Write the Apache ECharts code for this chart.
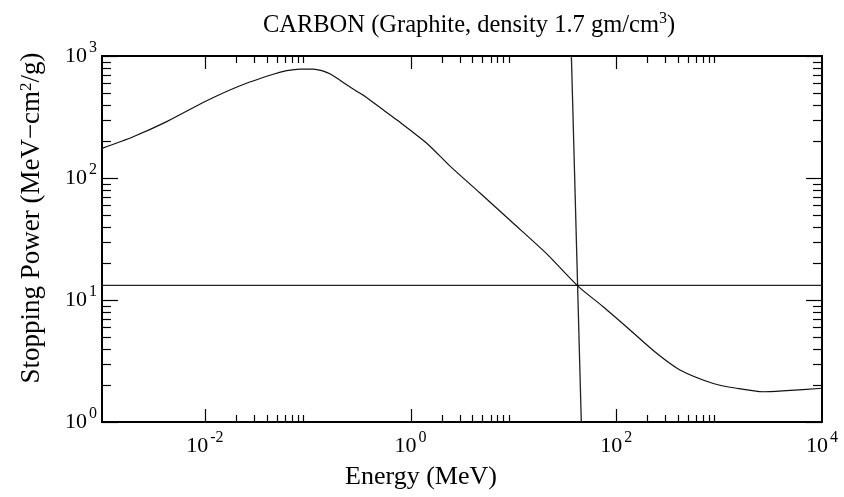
<!DOCTYPE html>
<html>
<head>
<meta charset="utf-8">
<script src="https://cdn.jsdelivr.net/npm/echarts@6/dist/echarts.min.js"></script>
<style>
  html, body { margin: 0; padding: 0; background: #fff; }
  #chart { width: 844px; height: 497px; }
</style>
</head>
<body>
<div id="chart"></div>
<script>
// ---- data ----
var energy = [0.001, 0.00201, 0.00426, 0.0103, 0.022, 0.0462, 0.0624, 0.084, 0.113, 0.137,
              0.166, 0.258, 0.344, 0.505, 0.738, 1.445, 2.42, 4.73, 9.91, 21.2, 42.4,
              74.6, 136, 247, 416, 877, 1479, 2685, 4529, 10000];
var stoppingPower = [175, 218, 290, 428, 571, 708, 758, 782, 782, 758,
                     711, 557, 479, 378, 299, 192, 125, 75.3, 42.8, 23.8, 13.0,
                     8.8, 5.68, 3.66, 2.67, 2.07, 1.89, 1.77, 1.81, 1.89];
var hLineX = [0.001, 10000];
var hLineY = [13.2, 13.2];
var vLineX = [36.6, 45.7];
var vLineY = [1000, 1];
var xMajorTicks = [0.01, 1, 100];
var yMajorTicks = [1, 10, 100, 1000];
var xLabelExponents = [-2, 0, 2, 4];
var yLabelExponents = [0, 1, 2, 3];

// ---- build ----
function zip(a, b) { return a.map(function (v, i) { return [v, b[i]]; }); }
var tickData = [];
xMajorTicks.forEach(function (v) {
  tickData.push([v, 1, 0]);
  for (var m = 2; m <= 9; m++) tickData.push([v * m, 1, 1]);
});
yMajorTicks.forEach(function (v, i) {
  tickData.push([1, v, 2]);
  if (i < yMajorTicks.length - 1) for (var m = 2; m <= 9; m++) tickData.push([1, v * m, 3]);
});

var FONT = 'Liberation Serif';
function expOf(v) { return Math.round(Math.log(v) / Math.LN10); }
var labelRich = {
  b: { fontFamily: FONT, fontSize: 22, color: '#000', lineHeight: 32 },
  s: { fontFamily: FONT, fontSize: 16, color: '#000', lineHeight: 16, verticalAlign: 'top', padding: [0, 0, 0, 2] }
};

var chart = echarts.init(document.getElementById('chart'), null, { renderer: 'canvas' });
chart.setOption({
  animation: false,
  backgroundColor: '#fff',
  title: {
    text: 'CARBON (Graphite, density 1.7 gm/cm{s|3})',
    left: 464, top: 6, textAlign: 'center',
    textStyle: {
      fontFamily: FONT, fontSize: 24.5, fontWeight: 'normal', color: '#000', lineHeight: 30,
      rich: { s: { fontFamily: FONT, fontSize: 16, color: '#000', lineHeight: 16, verticalAlign: 'top' } }
    }
  },
  grid: { left: 102, top: 56, width: 720, height: 366, show: true, borderColor: '#000', borderWidth: 2, backgroundColor: 'transparent' },
  xAxis: {
    type: 'log', logBase: 10, min: 0.001, max: 10000,
    axisLine: { show: false }, axisTick: { show: false }, splitLine: { show: false },
    axisLabel: {
      margin: 8, showMinLabel: true, showMaxLabel: true,
      formatter: function (v) {
        var e = expOf(v);
        return xLabelExponents.indexOf(e) >= 0 ? '{b|10}{s|' + e + '}' : '';
      },
      rich: labelRich
    }
  },
  yAxis: {
    type: 'log', logBase: 10, min: 1, max: 1000,
    axisLine: { show: false }, axisTick: { show: false }, splitLine: { show: false },
    axisLabel: {
      margin: 5,
      formatter: function (v) {
        var e = expOf(v);
        return yLabelExponents.indexOf(e) >= 0 ? '{b|10}{s|' + e + '}' : '';
      },
      rich: labelRich
    }
  },
  graphic: [
    { type: 'text', x: 421, y: 477, style: { text: 'Energy (MeV)', font: '26px "Liberation Serif"', fill: '#000', align: 'center', verticalAlign: 'middle' } },
    { type: 'text', x: 32, y: 218, rotation: Math.PI / 2,
      style: { text: 'Stopping Power (MeV\u2212cm{s|2}/g)', font: '27px "Liberation Serif"', fill: '#000', align: 'center', verticalAlign: 'middle',
               rich: { s: { fontFamily: FONT, fontSize: 17, fill: '#000', lineHeight: 17, verticalAlign: 'top' } } } }
  ],
  series: [
    { type: 'line', data: zip(energy, stoppingPower), showSymbol: false, smooth: 0.25,
      lineStyle: { color: '#111', width: 1.2 }, z: 3 },
    { type: 'line', data: zip(hLineX, hLineY), showSymbol: false, lineStyle: { color: '#222', width: 1.3 }, z: 2 },
    { type: 'line', data: zip(vLineX, vLineY), showSymbol: false, lineStyle: { color: '#222', width: 1.3 }, z: 2 },
    { type: 'custom', data: tickData, silent: true, z: 4, clip: false,
      encode: { x: 0, y: 1 },
      renderItem: function (params, api) {
        var cs = params.coordSys;
        var kind = api.value(2);
        var p = api.coord([api.value(0), api.value(1)]);
        var st = { stroke: '#000', lineWidth: 1.2 };
        var kids = [];
        if (kind < 2) {
          var len = kind === 0 ? 13 : 7;
          var x = Math.round(p[0]) + 0.5;
          kids.push({ type: 'line', shape: { x1: x, y1: cs.y + cs.height, x2: x, y2: cs.y + cs.height - len }, style: st });
          kids.push({ type: 'line', shape: { x1: x, y1: cs.y, x2: x, y2: cs.y + len }, style: st });
        } else {
          var len2 = kind === 2 ? 16 : 9;
          var y = Math.round(p[1]) + 0.5;
          kids.push({ type: 'line', shape: { x1: cs.x, y1: y, x2: cs.x + len2, y2: y }, style: st });
          kids.push({ type: 'line', shape: { x1: cs.x + cs.width, y1: y, x2: cs.x + cs.width - len2, y2: y }, style: st });
        }
        return { type: 'group', children: kids };
      }
    }
  ]
});
</script>
</body>
</html>
